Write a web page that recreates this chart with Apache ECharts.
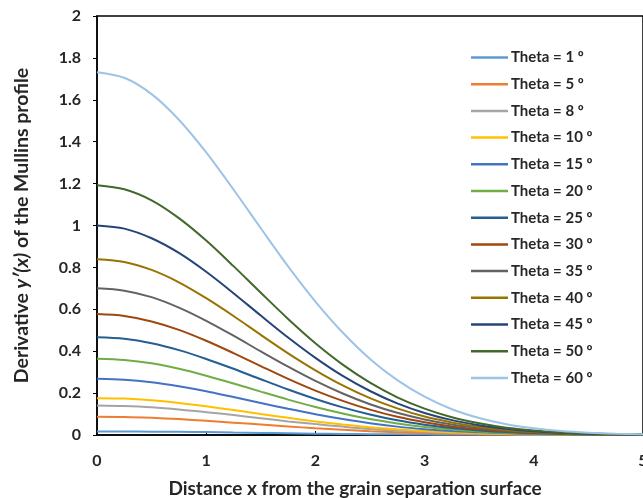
<!DOCTYPE html>
<html><head><meta charset="utf-8">
<script src="https://cdn.jsdelivr.net/npm/echarts@6/dist/echarts.min.js"></script>
<style>html,body{margin:0;padding:0;background:#fff}#c{width:643px;height:498px}</style>
</head><body><div id="c"></div>
<script>
const xValues = [0,0.25,0.5,0.75,1,1.25,1.5,1.75,2,2.25,2.5,2.75,3,3.25,3.5,3.75,4,4.25,4.5,4.75,5];
const seriesNames = ['Theta = 1 º','Theta = 5 º','Theta = 8 º','Theta = 10 º','Theta = 15 º','Theta = 20 º','Theta = 25 º','Theta = 30 º','Theta = 35 º','Theta = 40 º','Theta = 45 º','Theta = 50 º','Theta = 60 º'];
const theta1  = [0.017,0.017,0.016,0.015,0.014,0.012,0.010,0.008,0.006,0.005,0.004,0.003,0.002,0.001,0.001,0.001,0,0,0,0,0];
const theta5  = [0.087,0.086,0.082,0.076,0.068,0.059,0.050,0.041,0.032,0.025,0.018,0.013,0.009,0.006,0.004,0.003,0.002,0.001,0.001,0,0];
const theta8  = [0.141,0.138,0.132,0.122,0.109,0.095,0.080,0.065,0.052,0.040,0.029,0.021,0.015,0.010,0.007,0.004,0.003,0.002,0.001,0.001,0];
const theta10 = [0.176,0.174,0.166,0.153,0.137,0.119,0.100,0.082,0.065,0.050,0.037,0.027,0.019,0.013,0.008,0.005,0.003,0.002,0.001,0.001,0];
const theta15 = [0.268,0.264,0.252,0.233,0.209,0.181,0.153,0.125,0.099,0.076,0.056,0.040,0.028,0.019,0.013,0.008,0.005,0.003,0.002,0.001,0.001];
const theta20 = [0.364,0.358,0.342,0.316,0.283,0.246,0.207,0.169,0.134,0.103,0.076,0.055,0.038,0.026,0.017,0.011,0.007,0.004,0.002,0.001,0.001];
const theta25 = [0.466,0.459,0.438,0.405,0.363,0.316,0.266,0.217,0.172,0.132,0.098,0.070,0.049,0.033,0.022,0.014,0.009,0.005,0.003,0.002,0.001];
const theta30 = [0.577,0.568,0.542,0.502,0.450,0.391,0.329,0.268,0.212,0.163,0.121,0.087,0.061,0.041,0.027,0.017,0.011,0.006,0.004,0.002,0.001];
const theta35 = [0.700,0.689,0.658,0.608,0.545,0.474,0.399,0.326,0.258,0.198,0.147,0.106,0.074,0.050,0.033,0.021,0.013,0.008,0.004,0.003,0.001];
const theta40 = [0.839,0.826,0.788,0.729,0.653,0.568,0.478,0.390,0.309,0.237,0.176,0.127,0.088,0.060,0.039,0.025,0.015,0.009,0.005,0.003,0.002];
const theta45 = [1.000,0.985,0.939,0.869,0.779,0.677,0.570,0.465,0.368,0.282,0.210,0.151,0.105,0.071,0.047,0.030,0.018,0.011,0.006,0.004,0.002];
const theta50 = [1.192,1.173,1.120,1.035,0.928,0.806,0.679,0.554,0.438,0.336,0.250,0.180,0.126,0.085,0.056,0.035,0.022,0.013,0.008,0.004,0.002];
const theta60 = [1.732,1.705,1.627,1.505,1.349,1.172,0.987,0.805,0.637,0.489,0.363,0.262,0.183,0.123,0.081,0.051,0.032,0.019,0.011,0.006,0.003];
const allSeries = [theta1,theta5,theta8,theta10,theta15,theta20,theta25,theta30,theta35,theta40,theta45,theta50,theta60];
const colors = ['#5B9BD5','#ED7D31','#A5A5A5','#FFC000','#4472C4','#70AD47','#255E91','#9E480E','#636363','#997300','#264478','#43682B','#9DC3E6'];
const yTicks = [0,0.2,0.4,0.6,0.8,1,1.2,1.4,1.6,1.8,2];

const FONT = 'Lato';
const TXT = '#262626';
const chart = echarts.init(document.getElementById('c'));
chart.setOption({
  animation: false,
  color: colors,
  grid: {left: 97, right: 0, top: 16, bottom: 63, containLabel: false, outerBoundsMode: 'none',
    show: true, borderColor: '#000', borderWidth: 1.5, backgroundColor: 'transparent'},
  legend: {
    orient: 'vertical', left: 466, top: 45,
    icon: 'rect',
    itemWidth: 37, itemHeight: 2.5, itemGap: 11.7,
    textStyle: {fontFamily: FONT, fontWeight: 'bold', fontSize: 15, color: TXT, padding: [0,0,0,-2]},
    data: seriesNames
  },
  xAxis: {
    type: 'value', min: 0, max: 5, interval: 1,
    name: 'Distance x from the grain separation surface',
    nameLocation: 'middle', nameGap: 44,
    nameTextStyle: {fontFamily: FONT, fontWeight: 'bold', fontSize: 19, color: TXT, padding: [0, 30, 0, 0]},
    axisLine: {show: true, onZero: false, lineStyle: {color: '#000', width: 1.5}},
    axisTick: {show: true, inside: true, length: 4, lineStyle: {color: '#000'}},
    axisLabel: {fontFamily: FONT, fontWeight: 'bold', fontSize: 16, color: TXT, margin: 18},
    splitLine: {show: false}
  },
  yAxis: {
    type: 'value', min: yTicks[0], max: yTicks[yTicks.length-1], interval: 0.2,
    name: '{n|Derivative }{i|y\u2032(x)}{n| of the Mullins profile}',
    nameLocation: 'middle', nameGap: 65, nameRotate: 90,
    nameTextStyle: {rich: {
      n: {fontFamily: FONT, fontWeight: 'bold', fontSize: 19.5, color: TXT},
      i: {fontFamily: FONT, fontWeight: 'bold', fontStyle: 'italic', fontSize: 19.5, color: TXT}
    }},
    axisLine: {show: true, lineStyle: {color: '#000', width: 1.5}},
    axisTick: {show: true, inside: false, length: 4, lineStyle: {color: '#000'}},
    axisLabel: {fontFamily: FONT, fontWeight: 'bold', fontSize: 16, color: TXT, margin: 16,
      formatter: v => String(Math.round(v*10)/10)},
    splitLine: {show: false}
  },
  series: allSeries.map((arr, i) => ({
    name: seriesNames[i], type: 'line', symbol: 'none', smooth: 0.3,
    lineStyle: {width: 2, color: colors[i]},
    itemStyle: {color: colors[i]},
    data: arr.map((v, k) => [xValues[k], v])
  }))
});
</script></body></html>
